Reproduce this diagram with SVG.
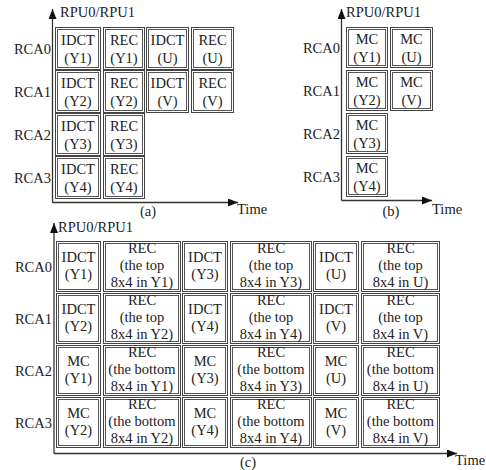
<svg xmlns="http://www.w3.org/2000/svg" width="486" height="470" viewBox="0 0 486 470">
<defs>
<style>
text{font-family:"Liberation Serif","Times New Roman",serif;font-size:14.5px;fill:#222}
.c{text-anchor:middle}
.r{text-anchor:end}
.o{fill:#fff;stroke:#444;stroke-width:1}
.i{fill:none;stroke:#555;stroke-width:1}
.ax{stroke:#333;stroke-width:1.3;fill:none}
</style>
<marker id="ah" viewBox="0 0 10 8" refX="10" refY="4" markerWidth="10" markerHeight="8" markerUnits="userSpaceOnUse" orient="auto"><path d="M0,0L10,4L0,8z" fill="#111"/></marker>
</defs>
<g id="connectors">
<path class="ax" d="M52.5,202.5V9" marker-end="url(#ah)"/>
<path class="ax" d="M52.5,202.5H238" marker-end="url(#ah)"/>
<path class="ax" d="M341.5,200.5V9" marker-end="url(#ah)"/>
<path class="ax" d="M341.5,200.5H432" marker-end="url(#ah)"/>
<path class="ax" d="M54,453.5V223" marker-end="url(#ah)"/>
<path class="ax" d="M54,453.5H457" marker-end="url(#ah)"/>
</g>
<g id="labels">
<text x="60" y="17">RPU0/RPU1</text>
<text x="237" y="214">Time</text>
<text class="c" x="148" y="216">(a)</text>
<text x="346" y="17">RPU0/RPU1</text>
<text x="432" y="214">Time</text>
<text class="c" x="391" y="216">(b)</text>
<text x="58" y="232">RPU0/RPU1</text>
<text x="455" y="465">Time</text>
<text class="c" x="248" y="467">(c)</text>
<text class="r" x="51" y="54">RCA0</text>
<text class="r" x="51" y="97">RCA1</text>
<text class="r" x="51" y="140">RCA2</text>
<text class="r" x="51" y="183">RCA3</text>
<text class="r" x="340" y="53">RCA0</text>
<text class="r" x="340" y="96">RCA1</text>
<text class="r" x="340" y="139">RCA2</text>
<text class="r" x="340" y="182">RCA3</text>
<text class="r" x="52" y="272">RCA0</text>
<text class="r" x="52" y="324">RCA1</text>
<text class="r" x="52" y="376">RCA2</text>
<text class="r" x="52" y="428">RCA3</text>
</g>
<g id="a-r0c0"><rect class="o" x="55.5" y="27.5" width="45" height="42"/><rect class="i" x="57.5" y="29.5" width="41" height="38"/><text class="c" x="78" y="45">IDCT</text><text class="c" x="78" y="63">(Y1)</text></g>
<g id="a-r0c1"><rect class="o" x="103.5" y="27.5" width="41" height="42"/><rect class="i" x="105.5" y="29.5" width="37" height="38"/><text class="c" x="124" y="45">REC</text><text class="c" x="124" y="63">(Y1)</text></g>
<g id="a-r0c2"><rect class="o" x="146.5" y="27.5" width="42" height="42"/><rect class="i" x="148.5" y="29.5" width="38" height="38"/><text class="c" x="167.5" y="45">IDCT</text><text class="c" x="167.5" y="63">(U)</text></g>
<g id="a-r0c3"><rect class="o" x="191.5" y="27.5" width="42" height="42"/><rect class="i" x="193.5" y="29.5" width="38" height="38"/><text class="c" x="212.5" y="45">REC</text><text class="c" x="212.5" y="63">(U)</text></g>
<g id="a-r1c0"><rect class="o" x="55.5" y="70.5" width="45" height="42"/><rect class="i" x="57.5" y="72.5" width="41" height="38"/><text class="c" x="78" y="88">IDCT</text><text class="c" x="78" y="106">(Y2)</text></g>
<g id="a-r1c1"><rect class="o" x="103.5" y="70.5" width="41" height="42"/><rect class="i" x="105.5" y="72.5" width="37" height="38"/><text class="c" x="124" y="88">REC</text><text class="c" x="124" y="106">(Y2)</text></g>
<g id="a-r1c2"><rect class="o" x="146.5" y="70.5" width="42" height="42"/><rect class="i" x="148.5" y="72.5" width="38" height="38"/><text class="c" x="167.5" y="88">IDCT</text><text class="c" x="167.5" y="106">(V)</text></g>
<g id="a-r1c3"><rect class="o" x="191.5" y="70.5" width="42" height="42"/><rect class="i" x="193.5" y="72.5" width="38" height="38"/><text class="c" x="212.5" y="88">REC</text><text class="c" x="212.5" y="106">(V)</text></g>
<g id="a-r2c0"><rect class="o" x="55.5" y="113.5" width="45" height="42"/><rect class="i" x="57.5" y="115.5" width="41" height="38"/><text class="c" x="78" y="131">IDCT</text><text class="c" x="78" y="149">(Y3)</text></g>
<g id="a-r2c1"><rect class="o" x="103.5" y="113.5" width="41" height="42"/><rect class="i" x="105.5" y="115.5" width="37" height="38"/><text class="c" x="124" y="131">REC</text><text class="c" x="124" y="149">(Y3)</text></g>
<g id="a-r3c0"><rect class="o" x="55.5" y="156.5" width="45" height="42"/><rect class="i" x="57.5" y="158.5" width="41" height="38"/><text class="c" x="78" y="174">IDCT</text><text class="c" x="78" y="192">(Y4)</text></g>
<g id="a-r3c1"><rect class="o" x="103.5" y="156.5" width="41" height="42"/><rect class="i" x="105.5" y="158.5" width="37" height="38"/><text class="c" x="124" y="174">REC</text><text class="c" x="124" y="192">(Y4)</text></g>
<g id="b-r0c0"><rect class="o" x="346.5" y="27.5" width="41" height="40"/><rect class="i" x="348.5" y="29.5" width="37" height="36"/><text class="c" x="367" y="44">MC</text><text class="c" x="367" y="62">(Y1)</text></g>
<g id="b-r0c1"><rect class="o" x="390.5" y="27.5" width="42" height="40"/><rect class="i" x="392.5" y="29.5" width="38" height="36"/><text class="c" x="411.5" y="44">MC</text><text class="c" x="411.5" y="62">(U)</text></g>
<g id="b-r1c0"><rect class="o" x="346.5" y="70.5" width="41" height="40"/><rect class="i" x="348.5" y="72.5" width="37" height="36"/><text class="c" x="367" y="87">MC</text><text class="c" x="367" y="105">(Y2)</text></g>
<g id="b-r1c1"><rect class="o" x="390.5" y="70.5" width="42" height="40"/><rect class="i" x="392.5" y="72.5" width="38" height="36"/><text class="c" x="411.5" y="87">MC</text><text class="c" x="411.5" y="105">(V)</text></g>
<g id="b-r2c0"><rect class="o" x="346.5" y="113.5" width="41" height="40"/><rect class="i" x="348.5" y="115.5" width="37" height="36"/><text class="c" x="367" y="130">MC</text><text class="c" x="367" y="148">(Y3)</text></g>
<g id="b-r3c0"><rect class="o" x="346.5" y="156.5" width="41" height="40"/><rect class="i" x="348.5" y="158.5" width="37" height="36"/><text class="c" x="367" y="173">MC</text><text class="c" x="367" y="191">(Y4)</text></g>
<g id="c-r0c0"><rect class="o" x="56.5" y="241.5" width="44" height="50"/><rect class="i" x="58.5" y="243.5" width="40" height="46"/><text class="c" x="78.5" y="262">IDCT</text><text class="c" x="78.5" y="279">(Y1)</text></g>
<g id="c-r0c1"><rect class="o" x="103.5" y="241.5" width="77" height="50"/><rect class="i" x="105.5" y="243.5" width="73" height="46"/><text class="c" x="142" y="253">REC</text><text class="c" x="142" y="270">(the top</text><text class="c" x="142" y="287">8x4 in Y1)</text></g>
<g id="c-r0c2"><rect class="o" x="182.5" y="241.5" width="45" height="50"/><rect class="i" x="184.5" y="243.5" width="41" height="46"/><text class="c" x="205" y="262">IDCT</text><text class="c" x="205" y="279">(Y3)</text></g>
<g id="c-r0c3"><rect class="o" x="230.5" y="241.5" width="81" height="50"/><rect class="i" x="232.5" y="243.5" width="77" height="46"/><text class="c" x="271" y="253">REC</text><text class="c" x="271" y="270">(the top</text><text class="c" x="271" y="287">8x4 in Y3)</text></g>
<g id="c-r0c4"><rect class="o" x="313.5" y="241.5" width="45" height="50"/><rect class="i" x="315.5" y="243.5" width="41" height="46"/><text class="c" x="336" y="262">IDCT</text><text class="c" x="336" y="279">(U)</text></g>
<g id="c-r0c5"><rect class="o" x="361.5" y="241.5" width="78" height="50"/><rect class="i" x="363.5" y="243.5" width="74" height="46"/><text class="c" x="400.5" y="253">REC</text><text class="c" x="400.5" y="270">(the top</text><text class="c" x="400.5" y="287">8x4 in U)</text></g>
<g id="c-r1c0"><rect class="o" x="56.5" y="293.5" width="44" height="50"/><rect class="i" x="58.5" y="295.5" width="40" height="46"/><text class="c" x="78.5" y="314">IDCT</text><text class="c" x="78.5" y="331">(Y2)</text></g>
<g id="c-r1c1"><rect class="o" x="103.5" y="293.5" width="77" height="50"/><rect class="i" x="105.5" y="295.5" width="73" height="46"/><text class="c" x="142" y="305">REC</text><text class="c" x="142" y="322">(the top</text><text class="c" x="142" y="339">8x4 in Y2)</text></g>
<g id="c-r1c2"><rect class="o" x="182.5" y="293.5" width="45" height="50"/><rect class="i" x="184.5" y="295.5" width="41" height="46"/><text class="c" x="205" y="314">IDCT</text><text class="c" x="205" y="331">(Y4)</text></g>
<g id="c-r1c3"><rect class="o" x="230.5" y="293.5" width="81" height="50"/><rect class="i" x="232.5" y="295.5" width="77" height="46"/><text class="c" x="271" y="305">REC</text><text class="c" x="271" y="322">(the top</text><text class="c" x="271" y="339">8x4 in Y4)</text></g>
<g id="c-r1c4"><rect class="o" x="313.5" y="293.5" width="45" height="50"/><rect class="i" x="315.5" y="295.5" width="41" height="46"/><text class="c" x="336" y="314">IDCT</text><text class="c" x="336" y="331">(V)</text></g>
<g id="c-r1c5"><rect class="o" x="361.5" y="293.5" width="78" height="50"/><rect class="i" x="363.5" y="295.5" width="74" height="46"/><text class="c" x="400.5" y="305">REC</text><text class="c" x="400.5" y="322">(the top</text><text class="c" x="400.5" y="339">8x4 in V)</text></g>
<g id="c-r2c0"><rect class="o" x="56.5" y="345.5" width="44" height="50"/><rect class="i" x="58.5" y="347.5" width="40" height="46"/><text class="c" x="78.5" y="366">MC</text><text class="c" x="78.5" y="383">(Y1)</text></g>
<g id="c-r2c1"><rect class="o" x="103.5" y="345.5" width="77" height="50"/><rect class="i" x="105.5" y="347.5" width="73" height="46"/><text class="c" x="142" y="357">REC</text><text class="c" x="142" y="374">(the bottom</text><text class="c" x="142" y="391">8x4 in Y1)</text></g>
<g id="c-r2c2"><rect class="o" x="182.5" y="345.5" width="45" height="50"/><rect class="i" x="184.5" y="347.5" width="41" height="46"/><text class="c" x="205" y="366">MC</text><text class="c" x="205" y="383">(Y3)</text></g>
<g id="c-r2c3"><rect class="o" x="230.5" y="345.5" width="81" height="50"/><rect class="i" x="232.5" y="347.5" width="77" height="46"/><text class="c" x="271" y="357">REC</text><text class="c" x="271" y="374">(the bottom</text><text class="c" x="271" y="391">8x4 in Y3)</text></g>
<g id="c-r2c4"><rect class="o" x="313.5" y="345.5" width="45" height="50"/><rect class="i" x="315.5" y="347.5" width="41" height="46"/><text class="c" x="336" y="366">MC</text><text class="c" x="336" y="383">(U)</text></g>
<g id="c-r2c5"><rect class="o" x="361.5" y="345.5" width="78" height="50"/><rect class="i" x="363.5" y="347.5" width="74" height="46"/><text class="c" x="400.5" y="357">REC</text><text class="c" x="400.5" y="374">(the bottom</text><text class="c" x="400.5" y="391">8x4 in U)</text></g>
<g id="c-r3c0"><rect class="o" x="56.5" y="397.5" width="44" height="50"/><rect class="i" x="58.5" y="399.5" width="40" height="46"/><text class="c" x="78.5" y="418">MC</text><text class="c" x="78.5" y="435">(Y2)</text></g>
<g id="c-r3c1"><rect class="o" x="103.5" y="397.5" width="77" height="50"/><rect class="i" x="105.5" y="399.5" width="73" height="46"/><text class="c" x="142" y="409">REC</text><text class="c" x="142" y="426">(the bottom</text><text class="c" x="142" y="443">8x4 in Y2)</text></g>
<g id="c-r3c2"><rect class="o" x="182.5" y="397.5" width="45" height="50"/><rect class="i" x="184.5" y="399.5" width="41" height="46"/><text class="c" x="205" y="418">MC</text><text class="c" x="205" y="435">(Y4)</text></g>
<g id="c-r3c3"><rect class="o" x="230.5" y="397.5" width="81" height="50"/><rect class="i" x="232.5" y="399.5" width="77" height="46"/><text class="c" x="271" y="409">REC</text><text class="c" x="271" y="426">(the bottom</text><text class="c" x="271" y="443">8x4 in Y4)</text></g>
<g id="c-r3c4"><rect class="o" x="313.5" y="397.5" width="45" height="50"/><rect class="i" x="315.5" y="399.5" width="41" height="46"/><text class="c" x="336" y="418">MC</text><text class="c" x="336" y="435">(V)</text></g>
<g id="c-r3c5"><rect class="o" x="361.5" y="397.5" width="78" height="50"/><rect class="i" x="363.5" y="399.5" width="74" height="46"/><text class="c" x="400.5" y="409">REC</text><text class="c" x="400.5" y="426">(the bottom</text><text class="c" x="400.5" y="443">8x4 in V)</text></g>
</svg>
